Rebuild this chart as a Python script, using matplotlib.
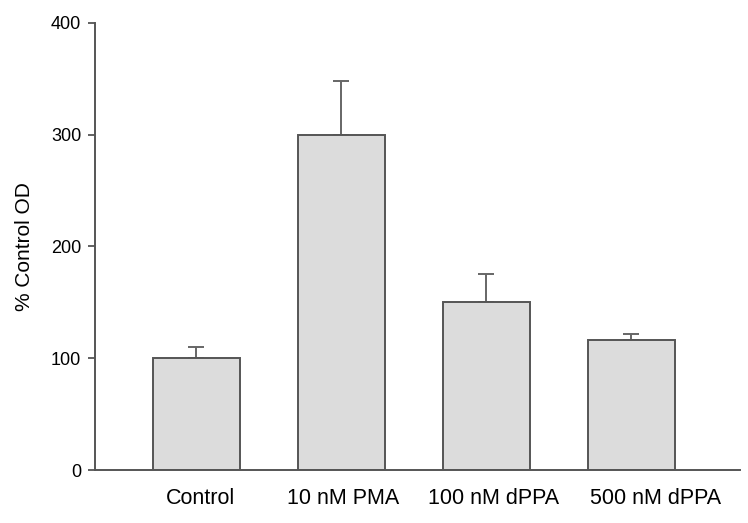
import matplotlib
matplotlib.use('Agg')
import matplotlib.pyplot as plt
import numpy as np

groups = ['Control', '10 nM PMA', '100 nM dPPA', '500 nM dPPA']
means = [100, 300, 150, 116]
errs = [10, 48, 25, 6]

plt.rcParams['font.family'] = ['Liberation Sans', 'DejaVu Sans']

fig = plt.figure(figsize=(7.48, 5.23), dpi=100)
ax = fig.add_axes([0.127, 0.1013, 0.862, 0.8553])

x = np.arange(len(groups))
line_col = '#555555'
ax.bar(x, means, width=0.6, color='#dcdcdc', edgecolor=line_col, linewidth=1.4, zorder=2)
ax.errorbar(x, means, yerr=[np.zeros(len(errs)), errs], fmt='none',
            ecolor='#666666', elinewidth=1.4, capsize=5.5, capthick=1.4, zorder=1)

ax.set_xlim(-0.70, 3.75)
ax.set_ylim(0, 400)
ax.set_yticks([0, 100, 200, 300, 400])
# labels in the original sit a little right of the bar centres
ax.set_xticks(x + np.array([0.025, 0.01, 0.05, 0.17]))
ax.set_xticklabels(groups, fontsize=15.5)
ax.tick_params(axis='x', length=0, pad=13)
ax.tick_params(axis='y', direction='out', length=5, width=1.3, color=line_col,
               labelsize=13, pad=5)
ax.set_ylabel('% Control OD', fontsize=15, labelpad=12)

for s in ['top', 'right']:
    ax.spines[s].set_visible(False)
for s in ['left', 'bottom']:
    ax.spines[s].set_color(line_col)
    ax.spines[s].set_linewidth(1.4)

fig.savefig('out.png', dpi=100)
